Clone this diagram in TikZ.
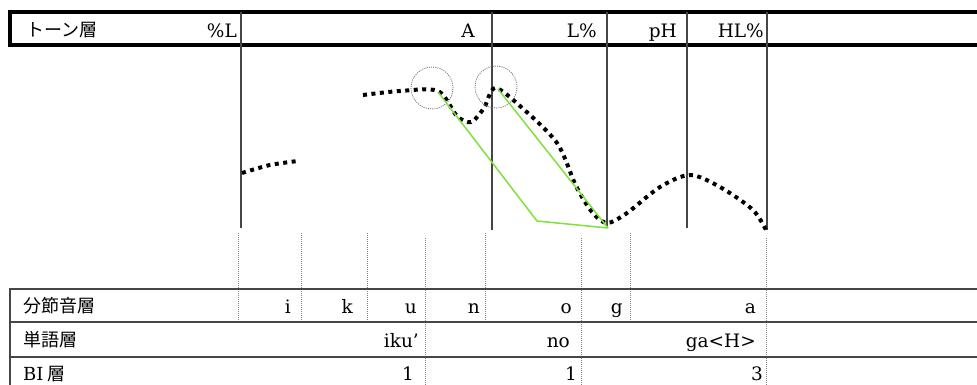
\documentclass[tikz,border=0pt]{standalone}
\usepackage{fontspec}
\setmainfont{DejaVu Serif}
\newfontfamily\jpfont{Noto Sans CJK JP}
\usepackage{xcolor}
\usepackage{tikz}

\definecolor{pitchgreen}{RGB}{125,226,60}
\definecolor{rulegray}{RGB}{70,70,70}
\tikzset{
  tierline/.style={rulegray, line width=1.5pt},
  tablerule/.style={rulegray, line width=1.8pt},
  segline/.style={gray, line width=0.7pt, dash pattern=on 1pt off 1pt},
  f0dots/.style={black, line width=4pt, dash pattern=on 4pt off 4.5pt},
  focus/.style={gray!80!black, line width=0.8pt, dash pattern=on 1pt off 1.2pt},
  lbl/.style={anchor=base east, inner sep=0pt, font=\fontsize{18.5}{21}\selectfont},
  tiername/.style={anchor=base west, inner sep=0pt, font=\jpfont\fontsize{18}{21}\selectfont},
}

\begin{document}
\begin{tikzpicture}[x=1pt, y=-1pt]
\useasboundingbox (0,0) rectangle (977,385);
% tone tier
\draw[line width=4pt] (980,12) -- (10,12) -- (10,45) -- (980,45);
\foreach \x/\y in {241/228, 492/230, 607/228, 687/228, 767/230}{
    \draw[tierline] (\x,12) -- (\x,\y);
}
\node[tiername] (tonetier) at (26,37) {トーン層};
\node[lbl] (toneL) at (237,38) {\%L};
\node[lbl] (toneA) at (475,38) {A};
\node[lbl] (toneLp) at (597,38) {L\%};
\node[lbl] (tonepH) at (677,38) {pH};
\node[lbl] (toneHL) at (764,38) {HL\%};

% f0 contour
\draw[f0dots] plot[smooth] coordinates {(242,173) (270,165) (298,161)};
\draw[f0dots] plot[smooth] coordinates {(363,95) (400,91) (438,91) (457,116)
    (471,122) (484,108) (495,88) (520,106) (557,143) (576,186) (592,212)
    (607,223) (627,213) (660,187) (690,175) (720,187) (753,210) (767,232)};
\draw[focus] (432,88) circle (21pt);
\draw[focus] (496,87) circle (21pt);

% stylised pitch
\coordinate (P1) at (438,92);
\coordinate (P2) at (537,221);
\coordinate (P3) at (608,228);
\coordinate (Q1) at (498,89);
\draw[pitchgreen, line width=1.5pt] (P1) -- (P2) -- (P3);
\draw[pitchgreen, line width=1.5pt] (Q1) -- (P3);

% segment boundaries
\foreach \x in {238.5, 301.5, 367, 485, 630}{
    \draw[segline] (\x,233) -- (\x,320);
}
\foreach \x in {425.5, 581, 766}{
    \draw[segline] (\x,238) -- (\x,385);
}

% lower tiers
\draw[tablerule] (980,289) -- (10,289) -- (10,388);
\draw[tablerule] (10,322) -- (980,322);
\draw[tablerule] (10,357) -- (980,357);
\node[tiername] (segtier) at (23,312) {分節音層};
\node[tiername] (wordtier) at (23,346) {単語層};
\node[tiername] (bitier) at (23,380) {{\rmfamily BI} 層};
\node[lbl] (sI) at (291,313) {i};
\node[lbl] (sK) at (353,313) {k};
\node[lbl] (sU) at (417,313) {u};
\node[lbl] (sN) at (480,313) {n};
\node[lbl] (sO) at (572,313) {o};
\node[lbl] (sG) at (623,313) {g};
\node[lbl] (sA) at (756,313) {a};
\node[lbl] (wIku) at (419,347) {iku'};
\node[lbl] (wNo) at (570,347) {no};
\node[lbl] (wGa) at (756,347) {ga<H>};
\node[lbl] (bOne) at (414,380) {1};
\node[lbl] (bTwo) at (577,380) {1};
\node[lbl] (bThree) at (763,380) {3};
\end{tikzpicture}
\end{document}
